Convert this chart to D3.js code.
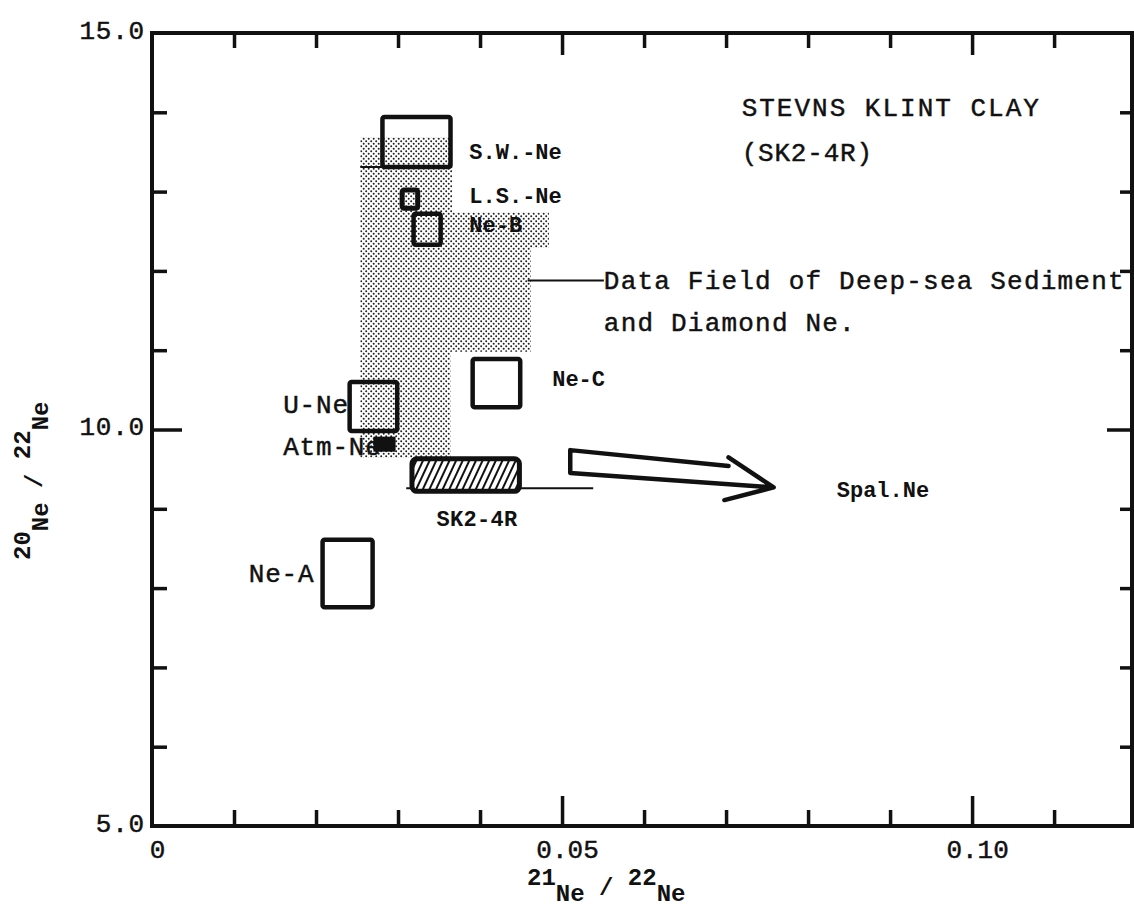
<!DOCTYPE html>
<html>
<head>
<meta charset="utf-8">
<script src="https://cdn.jsdelivr.net/npm/d3@7"></script>
<style>
  body { margin: 0; background: #fff; }
  text { font-family: "Liberation Mono", "DejaVu Sans Mono", monospace; fill: #111; stroke: #111; stroke-width: 0.45px; }
</style>
</head>
<body>
<div id="chart"></div>
<script>
// axis ticks
var xMinorTicks = [0.01, 0.02, 0.03, 0.04, 0.06, 0.07, 0.08, 0.09, 0.11];
var xMajorTicks = [0.05, 0.10];
var xLabelVals = [0, 0.05, 0.10];
var xLabelText = ["0", "0.05", "0.10"];
var yMinorTicks = [6, 7, 8, 9, 11, 12, 13, 14];
var yMajorTicks = [10];
var yLabelVals = [5, 10, 15];
var yLabelText = ["5.0", "10.0", "15.0"];

// reference neon components (21Ne/22Ne range, 20Ne/22Ne range)
var boxNames = ["S.W.-Ne", "L.S.-Ne", "Ne-B", "Ne-C", "U-Ne", "Ne-A"];
var boxX0 = [0.0281, 0.0305, 0.0319, 0.0391, 0.0241, 0.0208];
var boxX1 = [0.0364, 0.0324, 0.0352, 0.0449, 0.0299, 0.0269];
var boxY0 = [13.31, 12.79, 12.33, 10.28, 9.98, 7.76];
var boxY1 = [13.94, 13.02, 12.72, 10.89, 10.60, 8.61];

// data field of deep-sea sediment and diamond Ne (outline)
var fieldX = [0.0254, 0.0366, 0.0366, 0.0484, 0.0484, 0.0462, 0.0462, 0.0364, 0.0364, 0.0254];
var fieldY = [13.69, 13.69, 12.74, 12.74, 12.29, 12.29, 10.98, 10.98, 9.64, 9.64];

// Stevns Klint clay sample
var sk2X = [0.0317, 0.0448];
var sk2Y = [9.22, 9.63];
var atmX = [0.0270, 0.0297];
var atmY = [9.72, 9.91];

// guide lines
var lineX0 = [0.0254, 0.0310, 0.0458];
var lineX1 = [0.0366, 0.0538, 0.0551];
var lineY = [13.31, 9.26, 11.88];

// arrow toward spallation Ne
var arrowShaftX = [0.0703, 0.0510, 0.0510, 0.0758];
var arrowShaftY = [9.54, 9.74, 9.45, 9.27];
var arrowHeadX = [0.0703, 0.0758, 0.0698];
var arrowHeadY = [9.65, 9.27, 9.11];

// labels: text, x, y (baseline), size
var labelText = ["STEVNS KLINT CLAY", "(SK2-4R)", "S.W.-Ne", "L.S.-Ne", "Ne-B",
  "Data Field of Deep-sea Sediment", "and Diamond Ne.", "Ne-C", "U-Ne", "Atm-Ne",
  "SK2-4R", "Spal.Ne", "Ne-A"];
var labelX = [0.0719, 0.0719, 0.0387, 0.0387, 0.0387, 0.0551, 0.0551, 0.0488, 0.0160, 0.0160, 0.0347, 0.0835, 0.0118];
var labelY = [13.95, 13.39, 13.41, 12.86, 12.49, 11.77, 11.24, 10.55, 10.21, 9.68, 8.78, 9.15, 8.08];
var labelSize = [26, 26, 22, 22, 22, 26, 26, 22, 26, 26, 22, 22, 26];
var labelSpacing = [2, 0.8, 0, 0, 0, 1.2, 1.2, 0, 0.8, 0.8, 0.3, 0, 0.8];

var width = 1134, height = 913;

var svg = d3.select('#chart').append('svg')
    .attr('width', width)
    .attr('height', height);

var x = d3.scaleLinear().domain([0, 0.1195]).range([152, 1132]);
var y = d3.scaleLinear().domain([5, 15]).range([826, 33]);

var defs = svg.append('defs');
var dots = defs.append('pattern')
    .attr('id', 'dots')
    .attr('patternUnits', 'userSpaceOnUse')
    .attr('width', 5).attr('height', 5);
dots.append('circle').attr('cx', 1.2).attr('cy', 1.2).attr('r', 1).attr('fill', '#222');
dots.append('circle').attr('cx', 3.7).attr('cy', 3.7).attr('r', 1).attr('fill', '#222');

var hatch = defs.append('pattern')
    .attr('id', 'hatch')
    .attr('patternUnits', 'userSpaceOnUse')
    .attr('width', 6).attr('height', 10)
    .attr('patternTransform', 'rotate(25)');
hatch.append('rect').attr('width', 6).attr('height', 10).attr('fill', '#fff');
hatch.append('line').attr('x1', 2).attr('y1', 0).attr('x2', 2).attr('y2', 10)
    .attr('stroke', '#111').attr('stroke-width', 2);

// stippled data field
var fieldPts = fieldX.map(function(d, i) { return [x(d), y(fieldY[i])]; });
svg.append('path')
    .attr('d', d3.line()(fieldPts) + 'Z')
    .attr('fill', 'url(#dots)');

// guide lines
svg.selectAll('line.guide')
    .data(lineY)
    .join('line')
    .attr('class', 'guide')
    .attr('x1', function(d, i) { return x(lineX0[i]); })
    .attr('x2', function(d, i) { return x(lineX1[i]); })
    .attr('y1', function(d) { return y(d); })
    .attr('y2', function(d) { return y(d); })
    .attr('stroke', '#111')
    .attr('stroke-width', 2);

// component boxes
svg.selectAll('rect.box')
    .data(boxNames)
    .join('rect')
    .attr('class', 'box')
    .attr('x', function(d, i) { return x(boxX0[i]); })
    .attr('y', function(d, i) { return y(boxY1[i]); })
    .attr('width', function(d, i) { return x(boxX1[i]) - x(boxX0[i]); })
    .attr('height', function(d, i) { return y(boxY0[i]) - y(boxY1[i]); })
    .attr('rx', 2)
    .attr('fill', 'none')
    .attr('stroke', '#111')
    .attr('stroke-width', function(d) { return d == 'L.S.-Ne' ? 5 : 4.5; });

// SK2-4R hatched box
svg.append('rect')
    .attr('x', x(sk2X[0]))
    .attr('y', y(sk2Y[1]))
    .attr('width', x(sk2X[1]) - x(sk2X[0]))
    .attr('height', y(sk2Y[0]) - y(sk2Y[1]))
    .attr('rx', 5)
    .attr('fill', 'url(#hatch)')
    .attr('stroke', '#111')
    .attr('stroke-width', 5);

// labels
svg.selectAll('text.lab')
    .data(labelText)
    .join('text')
    .attr('class', 'lab')
    .attr('x', function(d, i) { return x(labelX[i]); })
    .attr('y', function(d, i) { return y(labelY[i]); })
    .style('font-size', function(d, i) { return labelSize[i] + 'px'; })
    .style('font-weight', function(d, i) { return labelSize[i] < 24 ? 'bold' : 'normal'; })
    .style('stroke-width', function(d, i) { return labelSize[i] < 24 ? '0px' : '0.45px'; })
    .style('letter-spacing', function(d, i) { return labelSpacing[i] + 'px'; })
    .text(function(d) { return d; });

// atmospheric Ne blob
svg.append('rect')
    .attr('x', x(atmX[0]))
    .attr('y', y(atmY[1]))
    .attr('width', x(atmX[1]) - x(atmX[0]))
    .attr('height', y(atmY[0]) - y(atmY[1]))
    .attr('fill', '#111');

// arrow
var shaft = arrowShaftX.map(function(d, i) { return [x(d), y(arrowShaftY[i])]; });
var head = arrowHeadX.map(function(d, i) { return [x(d), y(arrowHeadY[i])]; });
svg.append('path')
    .attr('d', d3.line()(shaft) + d3.line()(head))
    .attr('fill', 'none')
    .attr('stroke', '#111')
    .attr('stroke-width', 4.5)
    .attr('stroke-linejoin', 'round')
    .attr('stroke-linecap', 'round');

// frame
svg.append('rect')
    .attr('x', x(0)).attr('y', y(15))
    .attr('width', x(0.1195) - x(0)).attr('height', y(5) - y(15))
    .attr('fill', 'none').attr('stroke', '#111').attr('stroke-width', 4);

function tickAxis(axis, tr) {
  var g = svg.append('g').attr('transform', tr).call(axis);
  g.select('.domain').remove();
  g.selectAll('.tick line').attr('stroke', '#111').attr('stroke-width', 3.5);
  return g;
}

tickAxis(d3.axisBottom(x).tickValues(xMinorTicks).tickSize(-16).tickFormat(''), 'translate(0,' + y(5) + ')');
tickAxis(d3.axisBottom(x).tickValues(xMajorTicks).tickSize(-30).tickFormat(''), 'translate(0,' + y(5) + ')');
tickAxis(d3.axisTop(x).tickValues(xMinorTicks).tickSize(-15).tickFormat(''), 'translate(0,' + y(15) + ')');
tickAxis(d3.axisTop(x).tickValues(xMajorTicks).tickSize(-22).tickFormat(''), 'translate(0,' + y(15) + ')');
tickAxis(d3.axisLeft(y).tickValues(yMinorTicks).tickSize(-15).tickFormat(''), 'translate(' + x(0) + ',0)');
tickAxis(d3.axisLeft(y).tickValues(yMajorTicks).tickSize(-30).tickFormat(''), 'translate(' + x(0) + ',0)');
tickAxis(d3.axisRight(y).tickValues(yMinorTicks).tickSize(-12).tickFormat(''), 'translate(' + x(0.1195) + ',0)');
tickAxis(d3.axisRight(y).tickValues(yMajorTicks).tickSize(-25).tickFormat(''), 'translate(' + x(0.1195) + ',0)');

// tick labels
var xl = svg.append('g').attr('transform', 'translate(5,' + y(5) + ')')
    .call(d3.axisBottom(x).tickValues(xLabelVals).tickSize(0).tickPadding(14)
      .tickFormat(function(d, i) { return xLabelText[i]; }));
xl.select('.domain').remove();
xl.selectAll('text').style('font-family', '"Liberation Mono", monospace').style('font-size', '26px')
    .attr('fill', '#111').attr('stroke', '#111').attr('stroke-width', 0.45);

var yl = svg.append('g').attr('transform', 'translate(' + x(0) + ',-3)')
    .call(d3.axisLeft(y).tickValues(yLabelVals).tickSize(0).tickPadding(7)
      .tickFormat(function(d, i) { return yLabelText[i]; }));
yl.select('.domain').remove();
yl.selectAll('text').style('font-family', '"Liberation Mono", monospace').style('font-size', '26px')
    .style('letter-spacing', '0.8px')
    .attr('fill', '#111').attr('stroke', '#111').attr('stroke-width', 0.45);

// axis titles
var xt = svg.append('text')
    .attr('x', 527).attr('y', 901)
    .style('font-size', '24px').style('font-weight', 'bold').style('stroke-width', '0px');
xt.append('tspan').attr('dy', -16).text('21');
xt.append('tspan').attr('dy', 16).text('Ne');
xt.append('tspan').attr('dy', -6).text(' / ');
xt.append('tspan').attr('dy', -10).text('22');
xt.append('tspan').attr('dy', 16).text('Ne');

var yt = svg.append('text')
    .attr('transform', 'translate(48,560) rotate(-90)')
    .style('font-size', '24px').style('font-weight', 'bold').style('stroke-width', '0px');
yt.append('tspan').attr('dy', -18).text('20');
yt.append('tspan').attr('dy', 18).text('Ne');
yt.append('tspan').attr('dy', -6).text(' / ');
yt.append('tspan').attr('dy', -12).text('22');
yt.append('tspan').attr('dy', 18).text('Ne');
</script>
</body>
</html>
